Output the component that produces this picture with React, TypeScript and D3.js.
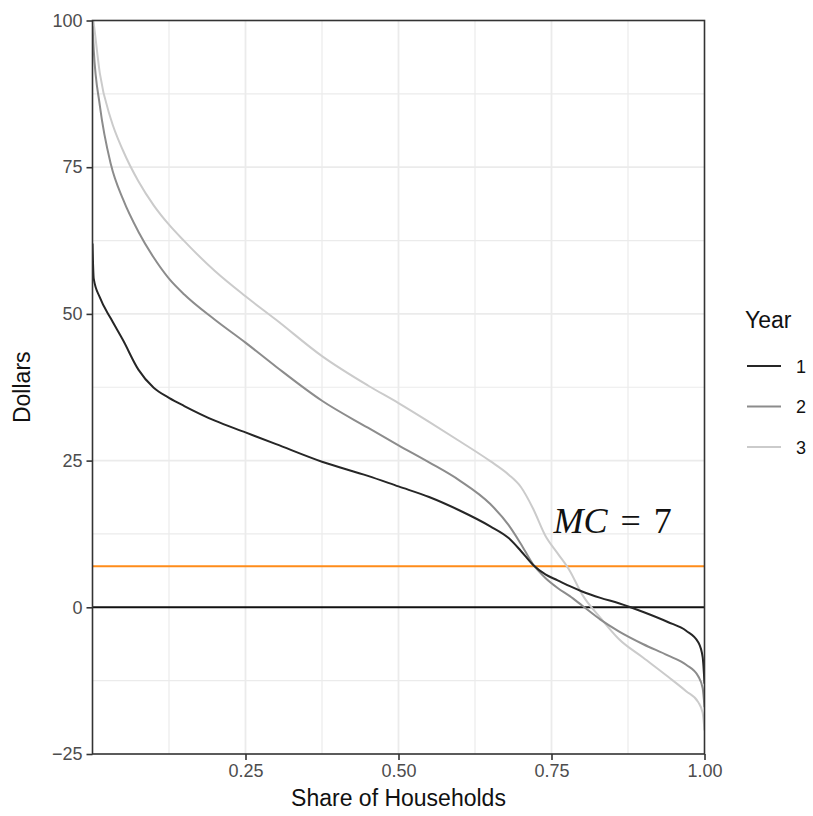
import React, { useEffect, useRef } from 'react';
import * as d3 from 'd3';

// share of households (x) used by all three curves
const share = [0, 0.002, 0.012, 0.03, 0.05, 0.075, 0.1, 0.125, 0.15, 0.2, 0.25, 0.3, 0.375, 0.45, 0.5, 0.55, 0.6, 0.65, 0.68, 0.7, 0.72, 0.74, 0.76, 0.78, 0.8, 0.83, 0.86, 0.9, 0.94, 0.97, 0.99, 0.997, 1];

const year1 = [62, 56, 52.8, 49.2, 45.5, 40.5, 37.4, 35.7, 34.3, 31.8, 29.8, 27.8, 24.8, 22.4, 20.6, 18.8, 16.5, 13.8, 11.8, 9.6, 7.2, 5.6, 4.6, 3.6, 2.7, 1.6, 0.7, -0.8, -2.5, -4.0, -6.0, -8.5, -13];
const year2 = [99, 95, 85.5, 75.5, 69.5, 64, 59.6, 56, 53.3, 49, 45.1, 41, 35.2, 30.6, 27.6, 24.7, 21.6, 17.6, 14, 10.8, 7.3, 5, 3.3, 1.9, 0.3, -2.1, -4.1, -6.3, -8.2, -9.8, -11.8, -13.8, -17];
const year3 = [101, 99.5, 91, 83.2, 77.8, 72.6, 68.5, 65.2, 62.4, 57.3, 53, 49, 42.8, 37.8, 34.8, 31.6, 28.3, 24.9, 22.6, 20.5, 16.8, 12.2, 9.2, 6.2, 2.2, -1.8, -5.4, -8.6, -11.8, -14.3, -16.2, -18, -21];

const years = ['1', '2', '3'];
const seriesValues = [year1, year2, year3];
const yearColors = ['#262626', '#8c8c8c', '#cbcbcb'];

const xTicks = [0.25, 0.5, 0.75, 1];
const yTicks = [-25, 0, 25, 50, 75, 100];
const xMinor = [0.125, 0.375, 0.625, 0.875];
const yMinor = [-12.5, 12.5, 37.5, 62.5, 87.5];

const mc = 7;

const App = () => {
  const svgRef = useRef(null);
  const width = 813;
  const height = 816;
  const margin = { top: 20.5, right: 108.5, bottom: 62, left: 92.5 };

  useEffect(() => {
    const svg = d3.select(svgRef.current);
    svg.selectAll('*').remove();

    const w = width - margin.left - margin.right;
    const h = height - margin.top - margin.bottom;

    const x = d3.scaleLinear().domain([0, 1]).range([0, w]);
    const y = d3.scaleLinear().domain([-25, 100]).range([h, 0]);

    const g = svg.append('g').attr('transform', `translate(${margin.left},${margin.top})`);

    svg.append('defs').append('clipPath').attr('id', 'panel')
      .append('rect').attr('width', w).attr('height', h);

    // grid
    const grid = g.append('g');
    grid.selectAll('.vminor').data(xMinor).join('line')
      .attr('x1', d => x(d)).attr('x2', d => x(d)).attr('y1', 0).attr('y2', h)
      .attr('stroke', '#ebebeb').attr('stroke-width', 1.2);
    grid.selectAll('.hminor').data(yMinor).join('line')
      .attr('y1', d => y(d)).attr('y2', d => y(d)).attr('x1', 0).attr('x2', w)
      .attr('stroke', '#ebebeb').attr('stroke-width', 1.2);
    grid.selectAll('.vmajor').data([0.25, 0.5, 0.75]).join('line')
      .attr('x1', d => x(d)).attr('x2', d => x(d)).attr('y1', 0).attr('y2', h)
      .attr('stroke', '#ebebeb').attr('stroke-width', 1.8);
    grid.selectAll('.hmajor').data([25, 50, 75]).join('line')
      .attr('y1', d => y(d)).attr('y2', d => y(d)).attr('x1', 0).attr('x2', w)
      .attr('stroke', '#ebebeb').attr('stroke-width', 1.8);

    // reference lines
    g.append('line')
      .attr('x1', 0).attr('x2', w).attr('y1', y(0)).attr('y2', y(0))
      .attr('stroke', '#111').attr('stroke-width', 2);
    g.append('line')
      .attr('x1', 0).attr('x2', w).attr('y1', y(mc)).attr('y2', y(mc))
      .attr('stroke', '#ff8c1a').attr('stroke-width', 2);

    // curves
    const line = d3.line()
      .x(d => x(d[0]))
      .y(d => y(d[1]))
      .curve(d3.curveMonotoneX);

    const curves = g.append('g').attr('clip-path', 'url(#panel)');
    [2, 1, 0].forEach(i => {
      curves.append('path')
        .datum(share.map((s, j) => [s, seriesValues[i][j]]))
        .attr('d', line)
        .attr('fill', 'none')
        .attr('stroke', yearColors[i])
        .attr('stroke-width', 2);
    });

    // MC label
    const lab = g.append('text')
      .attr('x', x(0.85))
      .attr('y', y(12.6))
      .attr('text-anchor', 'middle')
      .style('font-family', '"Liberation Serif", serif')
      .style('font-size', '36px')
      .attr('fill', '#111');
    lab.append('tspan').style('font-style', 'italic').text('MC');
    lab.append('tspan').attr('dx', 13).text('=');
    lab.append('tspan').attr('dx', 13).text(String(mc));

    // panel border
    g.append('rect')
      .attr('width', w).attr('height', h)
      .attr('fill', 'none').attr('stroke', '#333').attr('stroke-width', 1.6);

    // axes
    const xAxis = g.append('g')
      .attr('transform', `translate(0,${h})`)
      .call(d3.axisBottom(x).tickValues(xTicks).tickFormat(d3.format('.2f')).tickSize(6).tickPadding(4))
      .call(s => s.select('.domain').remove());
    xAxis.selectAll('line').attr('stroke', '#333').attr('stroke-width', 1.6);
    xAxis.selectAll('text')
      .style('font-family', '"Liberation Sans", Arial, sans-serif')
      .style('font-size', '18px')
      .attr('fill', '#4d4d4d');

    const yAxis = g.append('g')
      .call(d3.axisLeft(y).tickValues(yTicks).tickFormat(d3.format('d')).tickSize(6).tickPadding(4))
      .call(s => s.select('.domain').remove());
    yAxis.selectAll('line').attr('stroke', '#333').attr('stroke-width', 1.6);
    yAxis.selectAll('text')
      .style('font-family', '"Liberation Sans", Arial, sans-serif')
      .style('font-size', '18px')
      .attr('fill', '#4d4d4d');

    // axis titles
    svg.append('text')
      .attr('x', margin.left + w / 2)
      .attr('y', 806)
      .attr('text-anchor', 'middle')
      .style('font-family', '"Liberation Sans", Arial, sans-serif')
      .style('font-size', '23px')
      .attr('fill', '#111')
      .text('Share of Households');

    svg.append('text')
      .attr('transform', `translate(30,${margin.top + h / 2}) rotate(-90)`)
      .attr('text-anchor', 'middle')
      .style('font-family', '"Liberation Sans", Arial, sans-serif')
      .style('font-size', '23px')
      .attr('fill', '#111')
      .text('Dollars');

    // legend
    const legend = svg.append('g').attr('transform', 'translate(745,0)');
    legend.append('text')
      .attr('x', 0).attr('y', 328)
      .style('font-family', '"Liberation Sans", Arial, sans-serif')
      .style('font-size', '23px')
      .attr('fill', '#111')
      .text('Year');
    years.forEach((yr, i) => {
      const ly = 366 + i * 40.5;
      legend.append('line')
        .attr('x1', 2).attr('x2', 36).attr('y1', ly).attr('y2', ly)
        .attr('stroke', yearColors[i]).attr('stroke-width', 2);
      legend.append('text')
        .attr('x', 51).attr('y', ly + 6.5)
        .style('font-family', '"Liberation Sans", Arial, sans-serif')
        .style('font-size', '18px')
        .attr('fill', '#111')
        .text(yr);
    });
  }, []);

  return (
    <>
      <style>{'body { margin: 0; background: #fff; }'}</style>
      <svg ref={svgRef} width={width} height={height} style={{ display: 'block', background: '#fff' }} />
    </>
  );
};

export default App;
